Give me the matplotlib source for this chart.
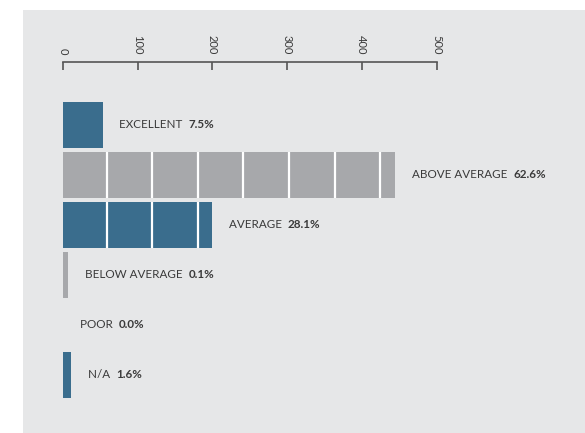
import matplotlib
matplotlib.use("Agg")
import matplotlib.pyplot as plt
from matplotlib.patches import Rectangle

# Survey ratings: share of respondents per category
categories = ["EXCELLENT", "ABOVE AVERAGE", "AVERAGE", "BELOW AVERAGE", "POOR", "N/A"]
percentages = [7.5, 62.6, 28.1, 0.1, 0.0, 1.6]
respondents = 710
tick_values = [0, 100, 200, 300, 400, 500]

BLUE = "#3a6d8d"
GRAY = "#a7a8ab"
PANEL = "#e6e7e8"
TEXT = "#3a3a3a"
bar_colors = [BLUE, GRAY, BLUE, GRAY, GRAY, BLUE]

counts = [p * respondents / 100 for p in percentages]

W, H = 585, 433
fig = plt.figure(figsize=(W / 100, H / 100), dpi=100)
fig.patch.set_facecolor("white")

# grey panel behind the chart
fig.patches.append(Rectangle((23 / W, 0), (W - 23) / W, (H - 10) / H,
                             transform=fig.transFigure, facecolor=PANEL,
                             edgecolor="none", zorder=-5))

plt.rcParams["font.family"] = ["Lato", "DejaVu Sans"]

ax_left, ax_top = 63, 61.7
px_per_unit = 0.747
ax = fig.add_axes([ax_left / W, 0, (W - ax_left) / W, (H - ax_top) / H])
ax.set_zorder(5)
ax.set_facecolor("none")
ax.set_xlim(0, (W - ax_left) / px_per_unit)
row_px = 50.0
ax.set_ylim((H - 124.5) / row_px, -(124.5 - ax_top) / row_px)

segment = 61.0
min_visible = 7.0
for i, (c, col) in enumerate(zip(counts, bar_colors)):
    if c <= 0:
        continue
    width = max(c, min_visible)
    ax.barh(i, width, height=0.92, color=col, edgecolor="none", zorder=2)
    # white dividers splitting long bars into blocks
    k = 1
    while k * segment - 2.5 < width - 1:
        x = k * segment - 2.5
        ax.plot([x, x], [i - 0.46, i + 0.46], color="white", lw=1.6,
                solid_capstyle="butt", zorder=3)
        k += 1

for i, (name, c, p) in enumerate(zip(categories, counts, percentages)):
    end = max(c, min_visible) if c > 0 else 0
    t = ax.annotate(name + "  ", xy=(end, i), xytext=(12, 0),
                    textcoords="offset points", va="center", ha="left",
                    fontsize=8.4, color=TEXT)
    ax.annotate(f"{p:.1f}%", xycoords=t, xy=(1, 0.5), va="center", ha="left",
                fontsize=8.4, color=TEXT, fontweight="bold")

# value axis along the top
for s in ["left", "right", "bottom"]:
    ax.spines[s].set_visible(False)
ax.spines["top"].set_bounds(0, 500)
ax.spines["top"].set_color("#555555")
ax.spines["top"].set_linewidth(1.2)
ax.xaxis.tick_top()
ax.set_xticks(tick_values)
ax.set_xticklabels([str(v) for v in tick_values], rotation=270, fontsize=8,
                   color=TEXT, va="bottom", ha="center")
ax.tick_params(axis="x", direction="in", length=6, width=1.2, color="#555555", pad=5)
ax.set_yticks([])

fig.savefig("out.png", dpi=100, facecolor=fig.get_facecolor())
